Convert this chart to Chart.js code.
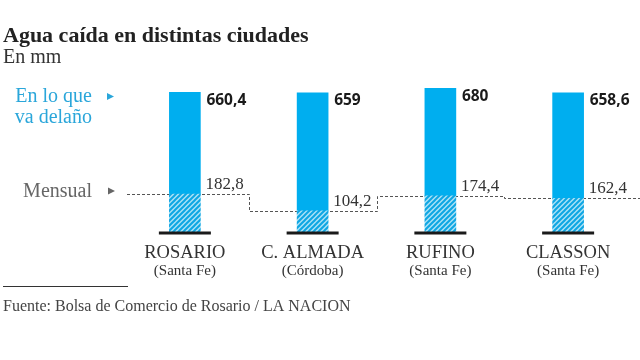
<!DOCTYPE html>
<html>
<head>
<meta charset="utf-8">
<script src="https://cdn.jsdelivr.net/npm/chart.js@4"></script>
<style>
  html, body { margin: 0; padding: 0; background: #fff; }
  #wrap { position: relative; width: 640px; height: 360px; }
  canvas { position: absolute; left: 0; top: 0; }
</style>
</head>
<body>
<div id="wrap"><canvas id="aguaChart" width="640" height="360"></canvas></div>
<script>
// data
const cities = ['ROSARIO', 'C. ALMADA', 'RUFINO', 'CLASSON'];
const provinces = ['(Santa Fe)', '(Córdoba)', '(Santa Fe)', '(Santa Fe)'];
const yearToDate = [660.4, 659, 680, 658.6];
const monthly = [182.8, 104.2, 174.4, 162.4];
const yMax = 700;

const BLUE = '#00aeef';
const SERIF = '"Liberation Serif", "DejaVu Serif", serif';
const fmt = v => String(v).replace('.', ',');

const ctx = document.getElementById('aguaChart').getContext('2d');

// diagonal hatch for the monthly part
function makeHatch() {
    const size = 5;
    const c = document.createElement('canvas');
    c.width = size; c.height = size;
    const g = c.getContext('2d');
    g.fillStyle = '#a9e1f6';
    g.fillRect(0, 0, size, size);
    g.strokeStyle = '#0ea6e3';
    g.lineWidth = 2;
    g.beginPath();
    [0, size, size * 2].forEach(k => {
        g.moveTo(-1, k + 1);
        g.lineTo(k + 1, -1);
    });
    g.stroke();
    return ctx.createPattern(c, 'repeat');
}

function triangle(c, x, y, color) {
    c.fillStyle = color;
    c.beginPath();
    c.moveTo(x, y - 3.5);
    c.lineTo(x + 7, y);
    c.lineTo(x, y + 3.5);
    c.closePath();
    c.fill();
}

const decor = {
    id: 'decor',
    beforeDatasetsDraw(chart) {
        const c = chart.ctx;
        const meta = chart.getDatasetMeta(0);
        const yScale = chart.scales.y;
        const xs = meta.data.map(b => b.x);
        const ys = monthly.map(v => Math.round(yScale.getPixelForValue(v)) + 0.5);
        c.save();
        c.strokeStyle = '#555';
        c.lineWidth = 1;
        c.setLineDash([3, 2]);
        c.beginPath();
        c.moveTo(127, ys[0]);
        for (let i = 0; i < xs.length; i++) {
            const nx = i < xs.length - 1 ? Math.round((xs[i] + xs[i + 1]) / 2) + 0.5 : chart.width;
            c.lineTo(nx, ys[i]);
            if (i < xs.length - 1) c.lineTo(nx, ys[i + 1]);
        }
        c.stroke();
        c.restore();
    },
    afterDatasetsDraw(chart) {
        const c = chart.ctx;
        const area = chart.chartArea;
        const yScale = chart.scales.y;
        const meta = chart.getDatasetMeta(1);
        c.save();
        meta.data.forEach((bar, i) => {
            const half = bar.width / 2;
            // base line under the bar
            c.fillStyle = '#1a1a1a';
            c.fillRect(bar.x - 26, area.bottom - 1.5, 52, 3);
            // total
            c.fillStyle = '#1a1a1a';
            c.font = 'bold 15.5px "Open Sans", sans-serif';
            c.textAlign = 'left';
            c.textBaseline = 'alphabetic';
            c.fillText(fmt(yearToDate[i]), bar.x + half + 6, bar.y + 12.5);
            // monthly
            c.fillStyle = '#333';
            c.font = '17px ' + SERIF;
            c.fillText(fmt(monthly[i]), bar.x + half + 5, yScale.getPixelForValue(monthly[i]) - 5);
            // province
            c.textAlign = 'center';
            c.font = '15px ' + SERIF;
            c.fillText(provinces[i], bar.x, 275);
        });
        c.restore();
    },
    afterDraw(chart) {
        const c = chart.ctx;
        c.save();
        c.textAlign = 'left';
        c.textBaseline = 'alphabetic';
        c.fillStyle = '#222';
        c.font = 'bold 22px ' + SERIF;
        c.fillText('Agua caída en distintas ciudades', 3, 42);
        c.fillStyle = '#333';
        c.font = '20px ' + SERIF;
        c.fillText('En mm', 3, 63);

        // side labels
        c.textAlign = 'right';
        c.fillStyle = '#2aa6da';
        c.font = '20px ' + SERIF;
        c.fillText('En lo que', 92, 102);
        c.fillText('va delaño', 92, 123);
        triangle(c, 107, 96.5, '#2aa6da');
        c.fillStyle = '#666';
        c.fillText('Mensual', 92, 197);
        triangle(c, 108, 191, '#666');

        // footer
        c.fillStyle = '#333';
        c.fillRect(3, 286, 125, 1);
        c.textAlign = 'left';
        c.fillStyle = '#444';
        c.font = '16px ' + SERIF;
        c.fillText('Fuente: Bolsa de Comercio de Rosario / LA NACION', 3, 311);
        c.restore();
    }
};

const hatch = makeHatch();

const aguaChart = new Chart(ctx, {
    type: 'bar',
    data: {
        labels: cities,
        datasets: [{
            label: 'Mensual',
            data: monthly,
            backgroundColor: hatch,
            grouped: false,
            barThickness: 31,
            borderWidth: 0
        }, {
            label: 'En lo que va del año',
            data: yearToDate.map((v, i) => [monthly[i], v]),
            backgroundColor: BLUE,
            grouped: false,
            barThickness: 31,
            borderWidth: 0
        }]
    },
    options: {
        responsive: false,
        animation: false,
        layout: { padding: { left: 121, right: 8, top: 84, bottom: 67 } },
        plugins: {
            legend: { display: false },
            tooltip: { enabled: false }
        },
        scales: {
            x: {
                grid: { display: false },
                border: { display: false },
                ticks: {
                    color: '#333',
                    padding: 1,
                    font: { family: SERIF, size: 18.5 }
                },
                afterFit(scale) { scale.height = 60; }
            },
            y: { display: false, min: 0, max: yMax }
        }
    },
    plugins: [decor]
});
</script>
</body>
</html>
